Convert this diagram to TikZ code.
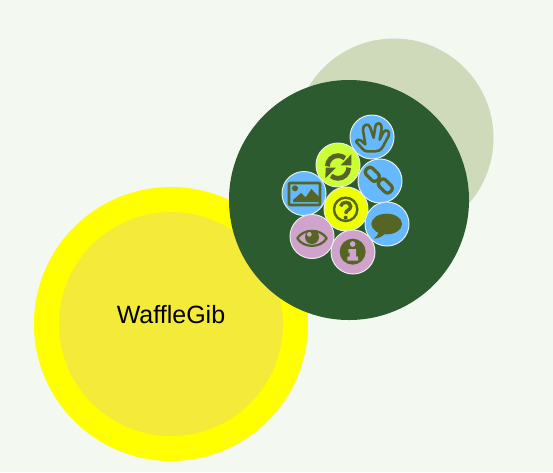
\documentclass[tikz,border=0pt]{standalone}
\usepackage{fontspec}
\setmainfont{Liberation Sans}
\definecolor{bgc}{HTML}{F3F8F1}
\definecolor{darkg}{HTML}{2B5B2F}
\definecolor{paleg}{HTML}{CFDABA}
\definecolor{yel}{HTML}{FFFF00}
\definecolor{yelin}{HTML}{F4EA3A}
\definecolor{bluec}{HTML}{66B8FF}
\definecolor{pinkc}{HTML}{CFA3CC}
\definecolor{limec}{HTML}{CCFF33}
\definecolor{yelq}{HTML}{EEFF00}
\definecolor{olive}{HTML}{556525}
\definecolor{rimc}{HTML}{E8EEE6}
\tikzset{
  x=1pt,y=-1pt,
  disc/.style={circle,inner sep=0pt,minimum size=#1*2pt},
  badge/.style={circle,inner sep=0pt,minimum size=44pt,draw=rimc,line width=1pt},
  iconline/.style={draw=olive,line width=2.6pt,line join=round,line cap=round},
  zoomA/.style={shift={(270,105)},scale=1/3},
  zoomB/.style={shift={(270,185)},scale=1/3}
}
\begin{document}
\begin{tikzpicture}
\useasboundingbox (0,0) rectangle (553,472);
\fill[bgc] (0,0) rectangle (553,472);
\node[disc=137,fill=yel] (outer) at (171,324) {};
\node[disc=112,fill=yelin] (inner) at (171,324) {};
\node[font=\fontsize{25}{28}\selectfont,text=black] (label) at (171,315) {WaffleGib};
\node[disc=99.5,fill=paleg] (pale) at (394,138) {};
\node[disc=120,fill=darkg] (dark) at (349,200) {};
\node[badge,fill=bluec] (hand) at (372,137) {};
\node[badge,fill=limec] (refresh) at (338,165) {};
\node[badge,fill=bluec] (link) at (380,181) {};
\node[badge,fill=bluec] (image) at (304,193.5) {};
\node[badge,fill=yelq] (question) at (346,209) {};
\node[badge,fill=bluec] (speech) at (387,224) {};
\node[badge,fill=pinkc] (eye) at (312,236.5) {};
\node[badge,fill=pinkc] (info) at (353,252) {};
% hand
\begin{scope}[zoomA]
\draw[iconline] (258,110) .. controls (262,104) and (266,102) .. (272,106) -- (286,118)
  -- (279,76) .. controls (277,58) and (296,52) .. (301,68) -- (311,98)
  -- (316,64) .. controls (319,50) and (337,52) .. (335,70) -- (329,104)
  -- (340,82) .. controls (347,70) and (362,78) .. (356,92) -- (338,126)
  .. controls (332,136) and (325,139) .. (315,139) -- (292,139)
  .. controls (286,139) and (282,136) .. (278,132) -- cycle;
% refresh
\draw[draw=olive,line width=4.8pt] (172,184) arc[start angle=180,end angle=310,radius=32];
\fill[olive] (244,148) -- (244,181) -- (212,181) -- cycle;
\draw[draw=olive,line width=4.8pt] (236,188) arc[start angle=0,end angle=130,radius=32];
\fill[olive] (166,220) -- (167,188) -- (198,188) -- cycle;
% link
\begin{scope}[shift={(307,208)},rotate=-45]
\draw[iconline,line width=3.2pt,rounded corners=3.5pt] (-23,-13.5) rectangle (23,13.5);
\end{scope}
\begin{scope}[shift={(346,243)},rotate=-45]
\draw[iconline,line width=3.2pt,rounded corners=3.5pt] (-23,-13.5) rectangle (23,13.5);
\end{scope}
\end{scope}
% image
\draw[iconline,rounded corners=1pt] (289,183) rectangle (320,205);
\begin{scope}[zoomB]
\fill[olive] (75,10) circle[radius=9];
\fill[olive] (69,51) -- (69,45) -- (93,24) -- (107,37) -- (124,12) -- (149,38) -- (149,51) -- cycle;
% question
\draw[draw=olive,line width=2.4pt] (227,73) circle[radius=35];
\draw[draw=olive,line width=3.4pt] (212,64) .. controls (214,48) and (242,48) .. (242,64)
  .. controls (242,76) and (227,74) .. (227,86);
\fill[olive] (227,98) circle[radius=6];
% speech
\fill[olive] (350,117) ellipse[x radius=46,y radius=31];
\fill[olive] (325,135) .. controls (326,148) and (320,156) .. (312,161)
  .. controls (328,160) and (342,152) .. (350,140) -- cycle;
% eye
\draw[iconline,line width=2.2pt] (82,160) .. controls (100,130) and (152,130) .. (170,160)
  .. controls (152,190) and (100,190) .. (82,160) -- cycle;
\fill[olive] (126,156) circle[radius=21];
\fill[pinkc] (118,148) circle[radius=7];
% info
\fill[olive] (248,200) circle[radius=39];
\fill[pinkc] (248,177) circle[radius=8.5];
\fill[pinkc] (235,192) -- (258,192) -- (258,215) -- (264,215) -- (264,227) -- (232,227)
  -- (232,215) -- (239,215) -- (239,203) -- (235,203) -- cycle;
\end{scope}
\end{tikzpicture}
\end{document}
